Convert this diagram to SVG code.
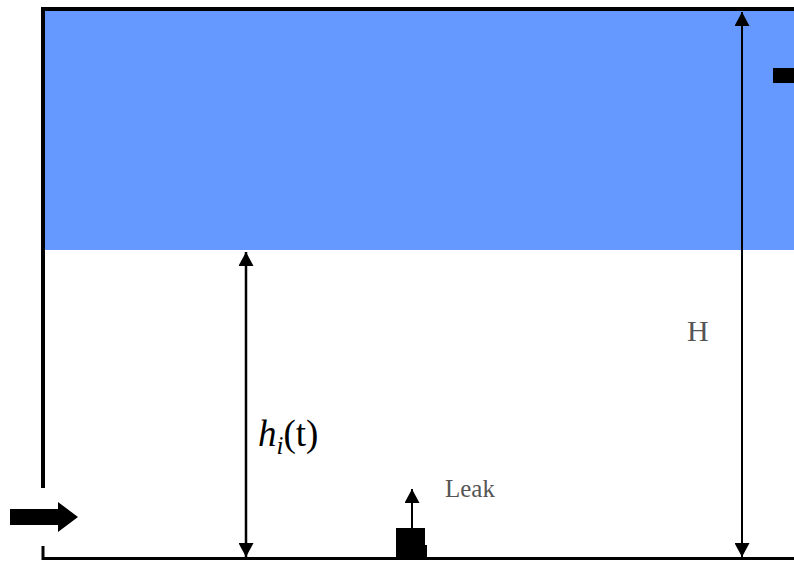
<svg xmlns="http://www.w3.org/2000/svg" width="794" height="561" viewBox="0 0 794 561">
<style>
.wall{stroke:#000;stroke-width:4;fill:none}
.dim{stroke:#000;stroke-width:2;fill:none}
.lbl{font-family:'Liberation Serif','Times New Roman',serif;fill:#555555}
.math{font-family:'Liberation Serif','Times New Roman',serif;fill:#000}
</style>
<defs>
<marker id="ah" viewBox="0 0 14 15" refX="14" refY="7.5" markerWidth="14" markerHeight="15" markerUnits="userSpaceOnUse" orient="auto-start-reverse">
<path d="M0,0 L14,7.5 L0,15 Z" fill="#000"/>
</marker>
</defs>
<rect width="794" height="561" fill="#fff"/>
<g id="tank">
<rect x="45" y="11" width="749" height="239" fill="#6699ff"/>
<path class="wall" d="M43,488 V9 H794"/>
<path class="wall" d="M43,546 V558.5 H794" style="stroke-width:3"/>
</g>
<g id="inlet">
<path d="M10,509 H58 V502 L78,517 L58,532 V525 H10 Z" fill="#000"/>
</g>
<g id="outlet">
<rect x="773" y="68" width="21" height="15" fill="#000"/>
</g>
<g id="leak">
<rect x="396" y="528" width="29" height="30" fill="#000"/>
<rect x="424" y="545" width="3" height="13" fill="#000"/>
<text class="lbl" x="445" y="497" font-size="25">Leak</text>
</g>
<g id="connectors">
<line class="dim" x1="742" y1="12" x2="742" y2="557" marker-start="url(#ah)" marker-end="url(#ah)"/>
<line class="dim" x1="246" y1="252" x2="246" y2="557" marker-start="url(#ah)" marker-end="url(#ah)" style="stroke-width:2.5"/>
<line class="dim" x1="412" y1="528" x2="412" y2="489" marker-end="url(#ah)"/>
</g>
<g id="labelH">
<text class="lbl" x="687" y="341" font-size="30">H</text>
</g>
<g id="labelh">
<text class="math" x="258" y="446" font-size="37"><tspan font-style="italic">h</tspan><tspan font-style="italic" font-size="25" dy="8">i</tspan><tspan dy="-8">(t)</tspan></text>
</g>
</svg>
